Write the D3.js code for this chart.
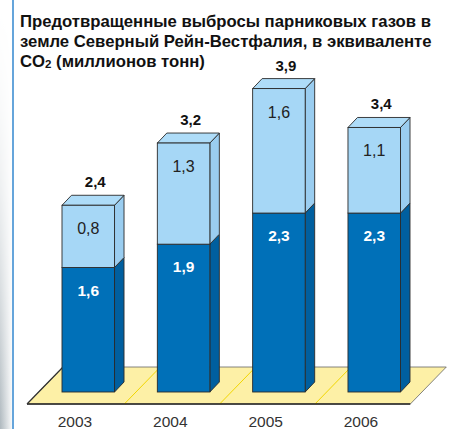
<!DOCTYPE html>
<html>
<head>
<meta charset="utf-8">
<script src="https://cdn.jsdelivr.net/npm/d3@7"></script>
<style>
  html, body { margin: 0; padding: 0; background: #fff; }
  svg { display: block; }
</style>
</head>
<body>
<svg id="chart"></svg>
<script>
// data
var years = ["2003", "2004", "2005", "2006"];
var lower = [1.6, 1.9, 2.3, 2.3];
var upper = [0.8, 1.3, 1.6, 1.1];
var totals = ["2,4", "3,2", "3,9", "3,4"];
var titleLines = ["Предотвращенные выбросы парниковых газов в",
                  "земле Северный Рейн-Вестфалия, в эквиваленте"];

var width = 458, height = 429;
var svg = d3.select("#chart").attr("width", width).attr("height", height);
var defs = svg.append("defs");

// left edge shadow + blue rule
var sh = defs.append("linearGradient").attr("id", "shadeH");
sh.append("stop").attr("offset", "0%").attr("stop-color", "#aeb8be");
sh.append("stop").attr("offset", "100%").attr("stop-color", "#ffffff");
var sv = defs.append("linearGradient").attr("id", "shadeV")
    .attr("x1", 0).attr("y1", 0).attr("x2", 0).attr("y2", 1);
sv.append("stop").attr("offset", "0%").attr("stop-color", "#000").attr("stop-opacity", 0.1);
sv.append("stop").attr("offset", "100%").attr("stop-color", "#fff").attr("stop-opacity", 1);
defs.append("mask").attr("id", "shadeMask")
    .append("rect").attr("width", 13).attr("height", height).attr("fill", "url(#shadeV)");
svg.append("rect").attr("width", 13).attr("height", height)
    .attr("fill", "url(#shadeH)").attr("mask", "url(#shadeMask)");
svg.append("line").attr("x1", 13).attr("x2", 13).attr("y1", 0).attr("y2", height)
    .attr("stroke", "#3f8fd2").attr("stroke-width", 1.6);

// title
var title = svg.append("text")
    .attr("font-family", "Liberation Sans, Arial, sans-serif")
    .attr("font-weight", "bold").attr("font-size", 16.7).attr("fill", "#111");
titleLines.forEach(function(t, i) {
    title.append("tspan").attr("x", 20).attr("y", 27 + i * 20).text(t);
});
var t3 = title.append("tspan").attr("x", 20).attr("y", 67);
t3.text("CO");
title.append("tspan").attr("font-size", 11.5).attr("dy", 1).text("2");
title.append("tspan").attr("dy", -1).text(" (миллионов тонн)");

// scales
var x = d3.scaleBand().domain(years).range([62, 400.5]).paddingInner(0.449).paddingOuter(0);
var y = d3.scaleLinear().domain([0, 4]).range([392, 80.8]);
var step = x.step(), bw = x.bandwidth();
var dx = 9.5, dy = -10;

// floor
var fFront = 404, fBack = 367, fSlant = 36;
var fLeft = x(years[0]) - 35, fRight = fLeft + step * years.length + 2;
svg.append("path")
    .attr("d", "M" + fLeft + "," + fFront + "L" + fRight + "," + fFront +
               "L" + (fRight + fSlant) + "," + fBack + "L" + (fLeft + fSlant) + "," + fBack + "Z")
    .attr("fill", "#fdf0a6").attr("stroke", "#666").attr("stroke-width", 0.8);
svg.append("g").selectAll("line").data(years.slice(1)).enter().append("line")
    .attr("x1", function(d) { return x(d) - 33; })
    .attr("x2", function(d) { return x(d) - 33 + fSlant; })
    .attr("y1", fFront).attr("y2", fBack)
    .attr("stroke", "#f2d600").attr("stroke-width", 1);
svg.append("line").attr("x1", fLeft).attr("x2", fRight).attr("y1", fFront).attr("y2", fFront)
    .attr("stroke", "#222").attr("stroke-width", 1.6);
svg.append("line").attr("x1", fLeft).attr("x2", fLeft + fSlant).attr("y1", fFront).attr("y2", fBack)
    .attr("stroke", "#333").attr("stroke-width", 1.2);

// 3D box helper
function box(g, x0, yTop, yBot, front, side, top, drawTop) {
    var st = "#2a2a2a", sw = 0.9;
    g.append("path")
        .attr("d", "M" + (x0 + bw) + "," + yBot + "L" + (x0 + bw + dx) + "," + (yBot + dy) +
                   "L" + (x0 + bw + dx) + "," + (yTop + dy) + "L" + (x0 + bw) + "," + yTop + "Z")
        .attr("fill", side).attr("stroke", st).attr("stroke-width", sw).attr("stroke-linejoin", "round");
    if (drawTop) {
        g.append("path")
            .attr("d", "M" + x0 + "," + yTop + "L" + (x0 + dx) + "," + (yTop + dy) +
                       "L" + (x0 + bw + dx) + "," + (yTop + dy) + "L" + (x0 + bw) + "," + yTop + "Z")
            .attr("fill", top).attr("stroke", st).attr("stroke-width", sw).attr("stroke-linejoin", "round");
    }
    g.append("rect").attr("x", x0).attr("y", yTop).attr("width", bw).attr("height", yBot - yTop)
        .attr("fill", front).attr("stroke", st).attr("stroke-width", sw);
}

var font = "Liberation Sans, Arial, sans-serif";
years.forEach(function(yr, i) {
    var g = svg.append("g");
    var x0 = x(yr);
    var yMid = y(lower[i]), yTop = y(lower[i] + upper[i]);
    box(g, x0, yMid, y(0), "#0070b8", "#005f9f", "#0070b8", false);
    box(g, x0, yTop, yMid, "#a6d7f6", "#9acdf0", "#aedcf8", true);

    g.append("text").attr("x", x0 + bw / 2).attr("y", yTop + 29)
        .attr("text-anchor", "middle").attr("font-family", font).attr("font-size", 16)
        .attr("fill", "#222").text(String(upper[i]).replace(".", ","));
    g.append("text").attr("x", x0 + bw / 2).attr("y", yMid + 28)
        .attr("text-anchor", "middle").attr("font-family", font).attr("font-size", 15.5)
        .attr("font-weight", "bold").attr("fill", "#fff").text(String(lower[i]).replace(".", ","));
    g.append("text").attr("x", x0 + bw / 2 + 7).attr("y", yTop + dy - 8)
        .attr("text-anchor", "middle").attr("font-family", font).attr("font-size", 15)
        .attr("font-weight", "bold").attr("fill", "#111").text(totals[i]);
    g.append("text").attr("x", x0 + 13).attr("y", 427)
        .attr("text-anchor", "middle").attr("font-family", font).attr("font-size", 15.5)
        .attr("fill", "#333").text(yr);
});
</script>
</body>
</html>
